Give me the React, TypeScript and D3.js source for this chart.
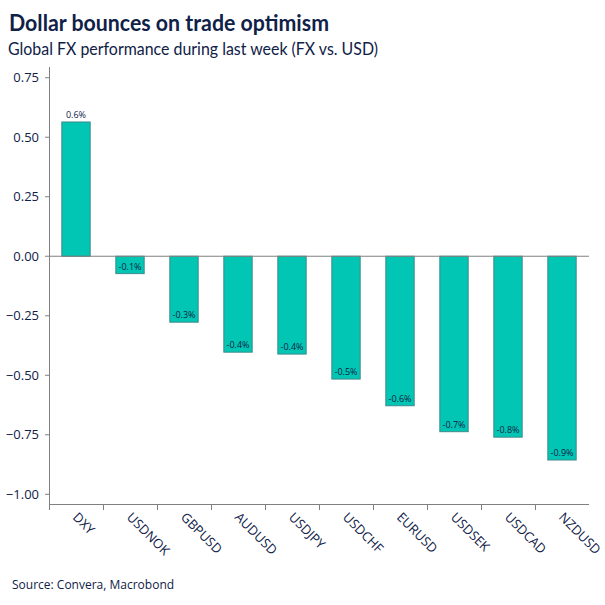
import React from "react";
import * as d3 from "d3";

const categories = ["DXY", "USDNOK", "GBPUSD", "AUDUSD", "USDJPY", "USDCHF", "EURUSD", "USDSEK", "USDCAD", "NZDUSD"];
const values = [0.564, -0.073, -0.277, -0.403, -0.411, -0.516, -0.628, -0.737, -0.76, -0.856];
const valueLabels = ["0.6%", "-0.1%", "-0.3%", "-0.4%", "-0.4%", "-0.5%", "-0.6%", "-0.7%", "-0.8%", "-0.9%"];
const yTicks = [0.75, 0.5, 0.25, 0, -0.25, -0.5, -0.75, -1.0];

const W = 605;
const H = 605;
const FONT = "'Open Sans', 'Noto Sans', sans-serif";
const HEAD_FONT = "Lato, 'Open Sans', sans-serif";
const TEXT = "#0F2147";
const AXIS = "#808080";
const BAR = "#00C6B3";
const BAR_STROKE = "#3D8B8C";

export default function App() {
  const x = d3.scaleBand<string>().domain(categories).range([49, 589]).paddingInner(0.475).paddingOuter(0.2375);
  const y = d3.scaleLinear().domain([-1.045, 0.795]).range([505, 67]);
  const fmt = d3.format(".2f");

  return (
    <svg width={W} height={H} style={{ position: "absolute", left: 0, top: 0, background: "#fff" }}>
      <text x={9} y={31} fontFamily={HEAD_FONT} fontWeight={700} fontSize={22} fill={TEXT} textLength={320} lengthAdjust="spacingAndGlyphs">
        Dollar bounces on trade optimism
      </text>
      <text x={8} y={55} fontFamily={HEAD_FONT} fontSize={16.5} fill={TEXT} textLength={370} lengthAdjust="spacingAndGlyphs">
        Global FX performance during last week (FX vs. USD)
      </text>

      {/* bars */}
      {categories.map((c, i) => {
        const v = values[i];
        const y0 = y(0);
        const y1 = y(v);
        const top = Math.min(y0, y1);
        const h = Math.abs(y1 - y0);
        const cx = (x(c) as number) + x.bandwidth() / 2;
        return (
          <g key={c}>
            <rect x={x(c)} y={top} width={x.bandwidth()} height={h} fill={BAR} stroke={BAR_STROKE} strokeWidth={1} />
            <text x={cx} y={y1 - 4} textAnchor="middle" fontFamily={FONT} fontSize={9} fill={TEXT}>
              {valueLabels[i]}
            </text>
          </g>
        );
      })}

      {/* zero line */}
      <line x1={49} x2={589} y1={y(0)} y2={y(0)} stroke={AXIS} strokeWidth={1} />

      {/* y axis */}
      <line x1={49.5} x2={49.5} y1={67} y2={505} stroke={AXIS} strokeWidth={1} />
      {yTicks.map((t) => (
        <g key={t}>
          <line x1={45} x2={49.5} y1={y(t)} y2={y(t)} stroke={AXIS} strokeWidth={1} />
          <text x={39} y={y(t) + 4.5} textAnchor="end" fontFamily={FONT} fontSize={13} fill={TEXT}>
            {fmt(t)}
          </text>
        </g>
      ))}

      {/* x axis */}
      <line x1={49} x2={589} y1={504.5} y2={504.5} stroke={AXIS} strokeWidth={1} />
      {categories.map((c, i) => {
        const tx = 49 + i * x.step();
        return <line key={"t" + c} x1={tx + 0.5} x2={tx + 0.5} y1={504.5} y2={510} stroke={AXIS} strokeWidth={1} />;
      })}
      {categories.map((c) => {
        const cx = (x(c) as number) + x.bandwidth() / 2;
        return (
          <text
            key={"l" + c}
            transform={`translate(${cx - 4},${518}) rotate(45)`}
            textAnchor="start"
            fontFamily={FONT}
            fontSize={13}
            fill={TEXT}
          >
            {c}
          </text>
        );
      })}

      <text x={12} y={589} fontFamily={FONT} fontSize={12} fill={TEXT}>
        Source: Convera, Macrobond
      </text>
    </svg>
  );
}
